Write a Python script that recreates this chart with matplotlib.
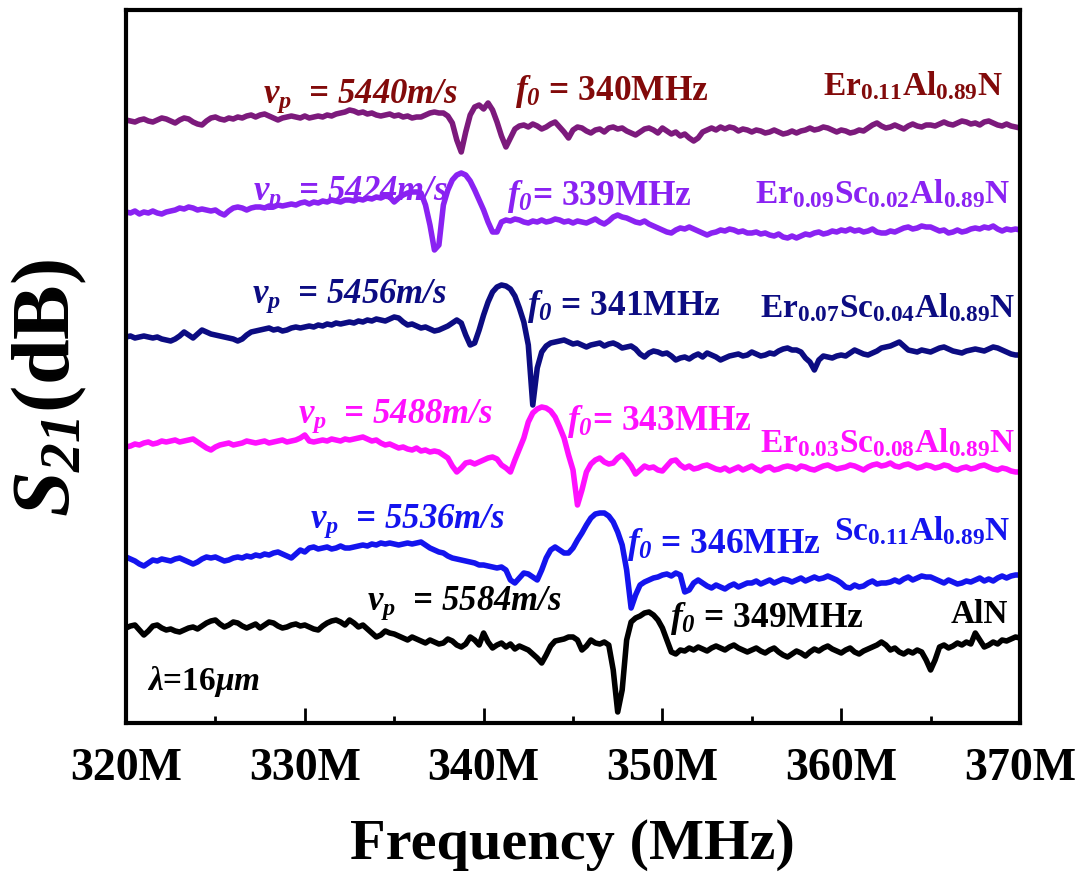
import numpy as np
import matplotlib
matplotlib.use("Agg")
import matplotlib.pyplot as plt
from matplotlib.ticker import MultipleLocator

plt.rcParams['font.family'] = ['Liberation Serif', 'DejaVu Serif']
plt.rcParams['font.weight'] = 'bold'
plt.rcParams['mathtext.fontset'] = 'custom'
plt.rcParams['mathtext.rm'] = 'Liberation Serif:bold'
plt.rcParams['mathtext.bf'] = 'Liberation Serif:bold'
plt.rcParams['mathtext.it'] = 'Liberation Serif:italic:bold'
plt.rcParams['mathtext.bfit'] = 'Liberation Serif:italic:bold'

# frequency grid, 0.25 MHz steps
freq = 320 + 0.25 * np.arange(201)

# S21, relative to each trace's baseline (units of 0.2 dB)
er011 = [0, -1, -2, 0, 1, -1, -2, 0, 2, 1,
         -1, -3, 0, 2, 1, -2, -4, -5, -1, 2,
         3, 1, 0, 2, 1, 3, 2, 4, 5, 3,
         5, 6, 4, 2, 0, 2, 3, 4, 3, 2,
         4, 2, 3, 4, 3, 5, 4, 6, 7, 8,
         10, 9, 7, 8, 6, 7, 5, 4, 5, 6,
         4, 5, 3, 4, 2, 3, 3, 5, 7, 8,
         7, 7, 4, -3, -20, -32, -12, 5, 13, 15,
         11, 17, 10, -2, -16, -27, -18, -9, -6, -5,
         -7, -4, -6, -9, -7, -4, -2, -7, -12, -18,
         -10, -7, -8, -11, -13, -10, -9, -12, -8, -7,
         -9, -8, -11, -13, -15, -12, -9, -8, -10, -13,
         -8, -11, -14, -12, -16, -14, -18, -21, -18, -12,
         -10, -8, -10, -7, -9, -7, -8, -11, -9, -10,
         -12, -10, -11, -13, -12, -10, -12, -14, -13, -11,
         -13, -11, -10, -8, -10, -9, -7, -8, -10, -12,
         -10, -11, -13, -12, -10, -11, -8, -5, -3, -6,
         -8, -7, -5, -7, -9, -6, -4, -6, -7, -5,
         -5, -6, -4, -2, -4, -5, -3, -1, -2, -4,
         -3, -5, -2, -1, -3, -5, -6, -4, -6, -7,
         -8]
er009 = [0, -1, 1, -2, 0, -1, 1, -1, -2, 0,
         1, 2, 4, 3, 5, 4, 2, 3, 2, 1,
         2, -1, -3, 1, 4, 5, 4, 2, 4, 5,
         5, 4, 6, 5, 7, 6, 7, 8, 7, 9,
         10, 8, 10, 9, 11, 10, 12, 11, 10, 12,
         12, 11, 13, 12, 14, 13, 15, 14, 16, 15,
         10, 14, 17, 19, 20, 20, 19, 7, -13, -38,
         -33, 7, 22, 32, 37, 39, 37, 31, 22, 12,
         2, -10, -20, -20, -10, -8, -9, -7, -8, -10,
         -11, -9, -10, -8, -10, -9, -7, -8, -10, -9,
         -11, -9, -10, -11, -9, -7, -10, -12, -9, -5,
         -3, -5, -6, -8, -10, -11, -9, -12, -14, -16,
         -18, -20, -21, -18, -16, -17, -15, -17, -19, -21,
         -23, -21, -20, -18, -19, -17, -18, -20, -19, -21,
         -21, -20, -22, -21, -23, -24, -22, -25, -26, -24,
         -26, -24, -22, -23, -21, -20, -22, -21, -19, -20,
         -18, -19, -17, -19, -18, -20, -19, -17, -20, -21,
         -21, -19, -20, -18, -16, -15, -17, -16, -14, -15,
         -15, -17, -19, -18, -21, -20, -18, -20, -19, -17,
         -16, -17, -15, -16, -14, -17, -19, -17, -18, -17,
         -18]
er007 = [0, 1, -1, 0, 1, 0, -1, 0, -2, -3,
         -4, -2, 1, 5, 2, -1, 3, 7, 5, 3,
         2, 1, 0, -1, -2, -4, -2, 2, 5, 6,
         7, 8, 9, 7, 8, 6, 7, 9, 10, 9,
         10, 11, 10, 12, 11, 13, 12, 14, 13, 14,
         15, 14, 16, 15, 17, 16, 18, 17, 16, 18,
         20, 19, 15, 12, 13, 11, 9, 10, 8, 6,
         7, 9, 11, 14, 17, 14, 2, -8, -6, 7,
         22, 35, 45, 50, 52, 51, 48, 41, 29, 15,
         -8, -68, -31, -15, -9, -6, -5, -4, -3, -5,
         -7, -6, -8, -10, -8, -7, -6, -9, -7, -6,
         -8, -11, -10, -9, -12, -17, -20, -16, -14, -15,
         -17, -16, -19, -23, -21, -20, -22, -19, -17, -20,
         -16, -18, -20, -23, -21, -19, -18, -17, -19, -18,
         -15, -17, -19, -18, -16, -17, -14, -12, -11, -13,
         -13, -15, -21, -25, -33, -23, -19, -20, -21, -19,
         -18, -19, -16, -13, -15, -17, -18, -16, -14, -11,
         -10, -9, -7, -5, -9, -13, -14, -15, -13, -14,
         -15, -13, -11, -10, -12, -14, -15, -16, -14, -13,
         -12, -13, -14, -12, -10, -11, -13, -15, -17, -18,
         -18]
er003 = [0, 1, 3, 2, 4, 5, 3, 4, 6, 5,
         6, 7, 5, 6, 7, 8, 5, 2, -1, -3,
         0, 2, 3, 4, 2, 3, 4, 6, 5, 4,
         5, 6, 4, 5, 6, 7, 5, 6, 7, 9,
         12, 6, 5, 6, 7, 6, 8, 7, 6, 8,
         7, 8, 9, 10, 8, 6, 7, 4, 2, 3,
         1, -1, 0, -2, -3, -1, -4, -3, -5, -4,
         -5, -8, -11, -19, -25, -21, -16, -15, -17, -15,
         -13, -11, -10, -12, -18, -21, -25, -13, -2, 9,
         25, 34, 38, 40, 39, 36, 30, 20, 9, -8,
         -23, -58, -43, -25, -17, -13, -11, -15, -17, -16,
         -11, -8, -13, -19, -27, -23, -19, -21, -20, -23,
         -24, -19, -14, -13, -18, -21, -19, -22, -21, -19,
         -18, -20, -22, -23, -21, -24, -22, -20, -23, -21,
         -19, -22, -24, -21, -20, -23, -22, -20, -19, -20,
         -22, -19, -20, -22, -23, -21, -19, -18, -20, -22,
         -21, -20, -18, -19, -21, -23, -20, -18, -17, -19,
         -18, -16, -19, -20, -18, -17, -19, -21, -20, -18,
         -19, -21, -20, -18, -19, -22, -23, -21, -20, -22,
         -21, -19, -18, -20, -22, -23, -21, -22, -24, -25,
         -25]
sc011 = [0, -2, -4, -7, -9, -6, -3, -4, -2, -3,
         -4, -2, -1, -3, -5, -7, -5, -2, 0, -1,
         0, -2, -4, -3, -1, 0, -1, 1, 0, 2,
         1, 3, 2, 4, 5, 3, 1, -1, 3, 7,
         5, 9, 10, 8, 9, 10, 8, 9, 11, 9,
         9, 10, 11, 12, 11, 13, 12, 14, 13, 14,
         13, 12, 13, 14, 13, 14, 15, 12, 9, 7,
         5, 4, 1, -1, -2, -3, -4, -5, -6, -8,
         -8, -9, -10, -11, -10, -13, -23, -26, -21, -16,
         -17, -20, -23, -13, -1, 7, 10, 7, 4, 4,
         9, 17, 24, 32, 39, 43, 44, 44, 41, 35,
         25, 12, -13, -51, -38, -28, -25, -23, -21, -20,
         -18, -17, -19, -16, -18, -35, -33, -26, -23, -26,
         -29, -31, -28, -30, -32, -29, -27, -30, -28, -26,
         -26, -24, -27, -25, -23, -26, -24, -22, -23, -25,
         -23, -21, -24, -22, -20, -22, -21, -19, -21, -23,
         -26, -30, -31, -28, -30, -29, -26, -24, -27, -26,
         -26, -25, -23, -25, -22, -20, -23, -21, -19, -20,
         -20, -22, -24, -26, -23, -25, -27, -26, -24, -25,
         -23, -21, -24, -22, -24, -21, -19, -21, -19, -18,
         -18]
aln = [0, 2, 3, -2, -7, -3, 2, 3, 0, -2,
       -1, -3, -4, -2, 0, 1, -1, 2, 5, 7,
       8, 4, 1, 3, 6, 5, 2, 0, 2, 4,
       0, 3, 6, 5, 2, 0, 1, 3, 4, 2,
       3, 1, -1, -2, 2, 5, 7, 8, 6, 3,
       8, 5, 1, 3, -1, -5, -9, -7, -3, -5,
       -6, -8, -10, -12, -9, -11, -13, -15, -12, -14,
       -16, -15, -11, -13, -17, -19, -16, -9, -12, -17,
       -5, -14, -20, -17, -15, -19, -16, -21, -18, -20,
       -22, -26, -30, -35, -27, -18, -13, -12, -11, -9,
       -9, -12, -22, -18, -12, -15, -16, -14, -17, -42,
       -84, -62, -12, 6, 10, 12, 15, 16, 13, 8,
       0, -12, -24, -26, -22, -23, -20, -22, -19, -21,
       -23, -20, -18, -20, -22, -19, -17, -20, -22, -24,
       -22, -20, -23, -25, -22, -20, -24, -27, -29, -26,
       -23, -25, -28, -24, -21, -23, -20, -18, -21, -23,
       -25, -22, -20, -24, -26, -23, -21, -19, -17, -14,
       -17, -22, -20, -24, -26, -23, -25, -22, -24, -32,
       -42, -32, -19, -17, -20, -18, -15, -17, -14, -16,
       -5, -12, -19, -17, -14, -16, -12, -13, -11, -9,
       -10]

traces = [er011, er009, er007, er003, sc011, aln]
offsets = [-24.0, -42.4, -67.4, -89.4, -111.4, -125.6]  # stacking offsets (dB)
line_colors = ['#7c1a7c', '#8a22f2', '#0c0c82', '#ff10ff', '#1414ee', '#000000']
text_colors = ['#820a0a', '#8a22f2', '#0c0c82', '#ff10ff', '#1414ee', '#000000']

materials = [r'Er$_{0.11}$Al$_{0.89}$N',
             r'Er$_{0.09}$Sc$_{0.02}$Al$_{0.89}$N',
             r'Er$_{0.07}$Sc$_{0.04}$Al$_{0.89}$N',
             r'Er$_{0.03}$Sc$_{0.08}$Al$_{0.89}$N',
             r'Sc$_{0.11}$Al$_{0.89}$N',
             'AlN']
vp_text = ['5440', '5424', '5456', '5488', '5536', '5584']
f0_text = ['340', '339', '341', '343', '346', '349']
f0_sep = [' = ', '= ', ' = ', '= ', ' = ', ' = ']

# label positions (freq, dB)
vp_pos = [(327.66, -20.6), (327.10, -40.0), (327.05, -60.6),
          (329.62, -84.6), (330.29, -105.6), (333.48, -122.0)]
f0_pos = [(341.76, -20.0), (341.31, -41.0), (342.43, -63.0),
          (344.66, -86.0), (348.02, -110.6), (350.43, -125.4)]
mat_pos = [(369.05, -19.0), (369.44, -40.6), (369.72, -63.4),
           (369.72, -90.4), (369.44, -108.0), (369.33, -124.6)]

fig = plt.figure(figsize=(10.8, 8.77), dpi=100)
ax = fig.add_axes([126/1080, 154/877, 894/1080, 713/877])

for i in range(6):
    y = offsets[i] + 0.2 * np.array(traces[i])
    ax.plot(freq, y, color=line_colors[i], lw=4, solid_joinstyle='round')
    ax.text(vp_pos[i][0], vp_pos[i][1], r'$v_p$  = ' + vp_text[i] + 'm/s',
            color=text_colors[i], fontsize=25, fontstyle='italic',
            fontweight='bold', ha='left', va='baseline')
    ax.text(f0_pos[i][0], f0_pos[i][1],
            r'$f_{\mathbfit{0}}$' + f0_sep[i] + f0_text[i] + 'MHz',
            color=text_colors[i], fontsize=25.5, fontweight='bold',
            ha='left', va='baseline')
    ax.text(mat_pos[i][0], mat_pos[i][1], materials[i], color=text_colors[i],
            fontsize=24, fontweight='bold', ha='right', va='baseline')

ax.text(321.17, -138.0, r'$\lambda$=16$\mu m$', fontsize=24,
        fontweight='bold', ha='left', va='baseline')

ax.set_xlim(320, 370)
ax.set_ylim(-144.6, -2.0)
ax.set_xticks([320, 330, 340, 350, 360, 370])
ax.set_xticklabels(['320M', '330M', '340M', '350M', '360M', '370M'])
ax.xaxis.set_minor_locator(MultipleLocator(5))
ax.set_yticks([])
ax.tick_params(axis='x', which='major', direction='in', length=11, width=2,
               labelsize=33, pad=18, top=False)
ax.tick_params(axis='x', which='minor', direction='in', length=5, width=2,
               top=False)
for sp in ax.spines.values():
    sp.set_linewidth(3)

ax.text(-0.0861, 0.47, r'$S_{\mathbfit{21}}$(dB)', transform=ax.transAxes,
        rotation=90, ha='center', va='center', fontsize=59, fontweight='bold')
ax.text(0.499, -0.171, 'Frequency (MHz)', transform=ax.transAxes,
        ha='center', va='center', fontsize=42, fontweight='bold')

fig.savefig('out.png', dpi=100)
